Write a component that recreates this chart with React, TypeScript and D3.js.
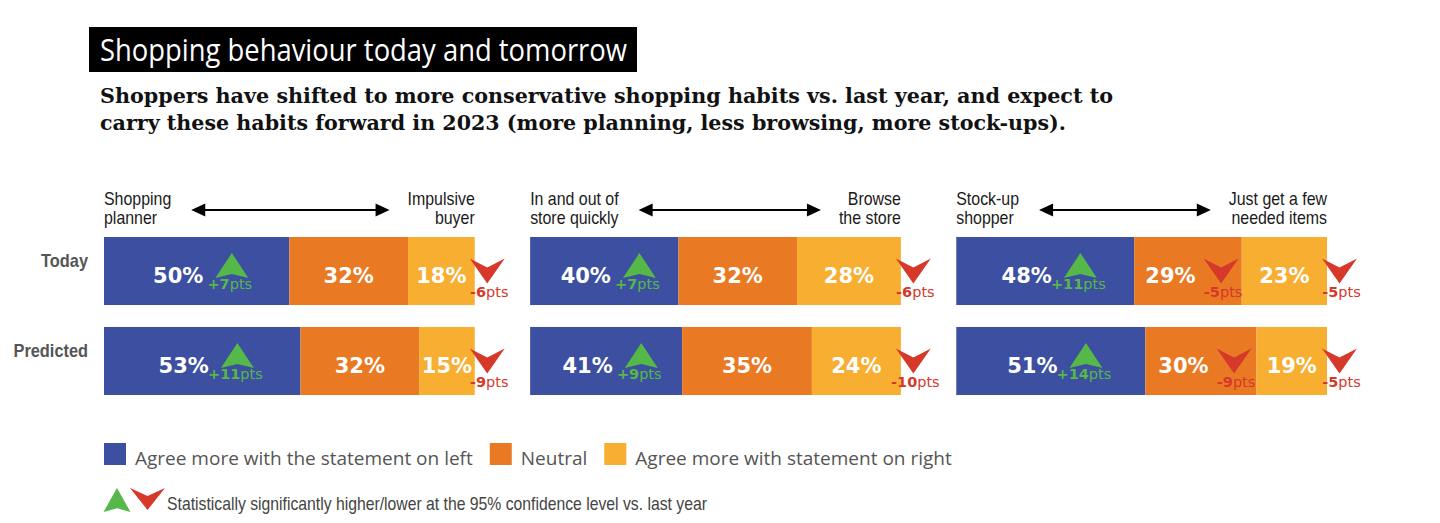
import React, { useEffect, useRef } from "react";
import * as d3 from "d3";

const titleText = "Shopping behaviour today and tomorrow";
const subtitleLines = [
  "Shoppers have shifted to more conservative shopping habits vs. last year, and expect to",
  "carry these habits forward in 2023 (more planning, less browsing, more stock-ups).",
];
const panelLeftLabels = [
  ["Shopping", "planner"],
  ["In and out of", "store quickly"],
  ["Stock-up", "shopper"],
];
const panelRightLabels = [
  ["Impulsive", "buyer"],
  ["Browse", "the store"],
  ["Just get a few", "needed items"],
];
const rowLabels = ["Today", "Predicted"];
const segmentKeys = ["left", "neutral", "right"];
const todayValues = [
  [50, 32, 18],
  [40, 32, 28],
  [48, 29, 23],
];
const predictedValues = [
  [53, 32, 15],
  [41, 35, 24],
  [51, 30, 19],
];
const todayChanges = [
  [7, 0, -6],
  [7, 0, -6],
  [11, -5, -5],
];
const predictedChanges = [
  [11, 0, -9],
  [9, 0, -10],
  [14, -9, -5],
];
const legendLabels = [
  "Agree more with the statement on left",
  "Neutral",
  "Agree more with statement on right",
];
const significanceNote =
  "Statistically significantly higher/lower at the 95% confidence level vs. last year";

const COLORS = ["#3c4fa1", "#e97a23", "#f8ae30"];
const GREEN = "#55b848";
const RED = "#d6382a";
const SANS = "'Liberation Sans Narrow', 'Liberation Sans', Arial, sans-serif";
const CONDENSE = 0.86;

export default function App() {
  const ref = useRef<SVGSVGElement | null>(null);

  useEffect(() => {
    const svg = d3.select(ref.current);
    svg.selectAll("*").remove();

    const panelX = d3.scaleBand<number>().domain([0, 1, 2]).range([104, 1327]).paddingInner(0.13);
    const rowY = d3.scaleBand<string>().domain(rowLabels).range([237, 395]).paddingInner(0.244);
    const color = d3.scaleOrdinal<string, string>().domain(segmentKeys).range(COLORS);
    const valuesByRow = [todayValues, predictedValues];
    const changesByRow = [todayChanges, predictedChanges];

    const condense = (sel: any) => {
      const w = (sel.node() as SVGTextElement).getComputedTextLength();
      sel.attr("textLength", w * CONDENSE).attr("lengthAdjust", "spacingAndGlyphs");
      return w * CONDENSE;
    };

    // Title
    svg.append("rect").attr("x", 89).attr("y", 27).attr("width", 548).attr("height", 45).attr("fill", "#000");
    svg
      .append("text")
      .attr("x", 100)
      .attr("y", 61)
      .attr("fill", "#fff")
      .style("font-family", "'Open Sans', sans-serif")
      .style("font-size", "31px")
      .attr("textLength", 527)
      .attr("lengthAdjust", "spacingAndGlyphs")
      .text(titleText);

    const subLens = [1013, 966];
    subtitleLines.forEach((line, i) => {
      svg
        .append("text")
        .attr("x", 100)
        .attr("y", 103 + i * 27)
        .attr("fill", "#111")
        .style("font-family", "'DejaVu Serif', serif")
        .style("font-weight", "bold")
        .style("font-size", "20.5px")
        .attr("textLength", subLens[i])
        .attr("lengthAdjust", "spacingAndGlyphs")
        .text(line);
    });

    // Row labels
    rowLabels.forEach((r) => {
      const t = svg
        .append("text")
        .attr("x", 88)
        .attr("y", (rowY(r) as number) + rowY.bandwidth() / 2 - 4)
        .attr("text-anchor", "end")
        .attr("fill", "#555")
        .style("font-family", SANS)
        .style("font-weight", "bold")
        .style("font-size", "19px")
        .text(r);
      condense(t);
    });

    const upArrow = (g: any, cx: number, top: number, w: number, h: number, fill: string) => {
      const path = d3.path();
      path.moveTo(cx, top);
      path.lineTo(cx + w / 2, top + h);
      path.lineTo(cx, top + h * 0.84);
      path.lineTo(cx - w / 2, top + h);
      path.closePath();
      g.append("path").attr("d", path.toString()).attr("fill", fill);
    };
    const downArrow = (g: any, cx: number, top: number, w: number, h: number, fill: string) => {
      const path = d3.path();
      path.moveTo(cx - w / 2, top);
      path.lineTo(cx, top + h * 0.36);
      path.lineTo(cx + w / 2, top);
      path.lineTo(cx, top + h);
      path.closePath();
      g.append("path").attr("d", path.toString()).attr("fill", fill);
    };

    const GW = 33;
    const RW = 35;

    panelLeftLabels.forEach((leftLines, p) => {
      const x0 = panelX(p) as number;
      const x1 = x0 + panelX.bandwidth();
      const x = d3.scaleLinear().domain([0, 100]).range([x0, x1]);
      const g = svg.append("g");

      let leftMax = 0;
      leftLines.forEach((t, i) => {
        const node = g
          .append("text")
          .attr("x", x0)
          .attr("y", 205 + i * 19)
          .attr("fill", "#1a1a1a")
          .style("font-family", SANS)
          .style("font-size", "18.5px")
          .text(t);
        leftMax = Math.max(leftMax, condense(node));
      });
      let rightMax = 0;
      panelRightLabels[p].forEach((t, i) => {
        const node = g
          .append("text")
          .attr("x", x1)
          .attr("y", 205 + i * 19)
          .attr("text-anchor", "end")
          .attr("fill", "#1a1a1a")
          .style("font-family", SANS)
          .style("font-size", "18.5px")
          .text(t);
        rightMax = Math.max(rightMax, condense(node));
      });
      const ax0 = x0 + leftMax + 20;
      const ax1 = x1 - rightMax - 18;
      const ay = 210;
      g.append("line")
        .attr("x1", ax0 + 8)
        .attr("x2", ax1 - 8)
        .attr("y1", ay)
        .attr("y2", ay)
        .attr("stroke", "#000")
        .attr("stroke-width", 2);
      g.append("path").attr("d", `M${ax0},${ay}L${ax0 + 14},${ay - 6.5}L${ax0 + 14},${ay + 6.5}Z`).attr("fill", "#000");
      g.append("path").attr("d", `M${ax1},${ay}L${ax1 - 14},${ay - 6.5}L${ax1 - 14},${ay + 6.5}Z`).attr("fill", "#000");

      rowLabels.forEach((r, ri) => {
        const vals = valuesByRow[ri][p];
        const chs = changesByRow[ri][p];
        const y0 = rowY(r) as number;
        const bh = rowY.bandwidth();
        const cy = y0 + bh / 2;
        const stack = d3.cumsum(vals);
        vals.forEach((v, si) => {
          const sx0 = x(stack[si] - v);
          const sx1 = x(stack[si]);
          g.append("rect")
            .attr("x", sx0)
            .attr("y", y0)
            .attr("width", sx1 - sx0)
            .attr("height", bh)
            .attr("fill", color(segmentKeys[si]));
        });
        vals.forEach((v, si) => {
          const sx0 = x(stack[si] - v);
          const sx1 = x(stack[si]);
          const mid = (sx0 + sx1) / 2;
          const ch = chs[si];
          const label = g
            .append("text")
            .attr("y", cy + 12)
            .attr("fill", "#fff")
            .style("font-family", "'DejaVu Sans', sans-serif")
            .style("font-weight", "bold")
            .style("font-size", "21px")
            .text(`${v}%`);
          const w = (label.node() as SVGTextElement).getComputedTextLength();
          const isLast = si === vals.length - 1;
          const aw = ch > 0 ? GW : RW;
          let lx = mid - w / 2;
          let acx = 0;
          if (ch !== 0) {
            if (isLast) {
              acx = sx1 - 5 + aw / 2;
            } else {
              const gap = ch > 0 ? 12 : 8;
              const gw = w + gap + aw;
              lx = mid - gw / 2 + 4;
              acx = lx + w + gap + aw / 2;
            }
          }
          label.attr("x", lx);
          if (ch > 0) {
            upArrow(g, acx, cy - 18, GW, 25, GREEN);
            const t = g
              .append("text")
              .attr("x", acx - 2)
              .attr("y", cy + 18)
              .attr("text-anchor", "middle")
              .attr("fill", GREEN)
              .style("font-family", "'DejaVu Sans', sans-serif")
              .style("font-size", "14.5px");
            t.append("tspan").style("font-weight", "bold").text(`+${ch}`);
            t.append("tspan").text("pts");
          } else if (ch < 0) {
            downArrow(g, acx, cy - 12.5, RW, 25, RED);
            const t = g
              .append("text")
              .attr("x", acx + 2)
              .attr("y", cy + 26)
              .attr("text-anchor", "middle")
              .attr("fill", RED)
              .style("font-family", "'DejaVu Sans', sans-serif")
              .style("font-size", "14.5px");
            t.append("tspan").style("font-weight", "bold").text(`-${Math.abs(ch)}`);
            t.append("tspan").text("pts");
          }
        });
      });
    });

    // Legend
    let lx = 104;
    legendLabels.forEach((lab, i) => {
      svg.append("rect").attr("x", lx).attr("y", 443).attr("width", 22).attr("height", 22).attr("fill", color(segmentKeys[i]));
      const t = svg
        .append("text")
        .attr("x", lx + 31)
        .attr("y", 465)
        .attr("fill", "#555")
        .style("font-family", "'Open Sans', sans-serif")
        .style("font-size", "19px")
        .text(lab);
      lx = lx + 31 + (t.node() as SVGTextElement).getComputedTextLength() + 17;
    });

    upArrow(svg, 117, 488, 27, 24, GREEN);
    downArrow(svg, 147.5, 488, 35, 22, RED);
    svg
      .append("text")
      .attr("x", 167)
      .attr("y", 510)
      .attr("fill", "#444")
      .style("font-family", SANS)
      .style("font-size", "19px")
      .attr("textLength", 540)
      .attr("lengthAdjust", "spacingAndGlyphs")
      .text(significanceNote);
  }, []);

  return (
    <div style={{ position: "absolute", left: 0, top: 0 }}>
      <svg ref={ref} width={1440} height={523} style={{ display: "block", background: "#fff" }} />
    </div>
  );
}
